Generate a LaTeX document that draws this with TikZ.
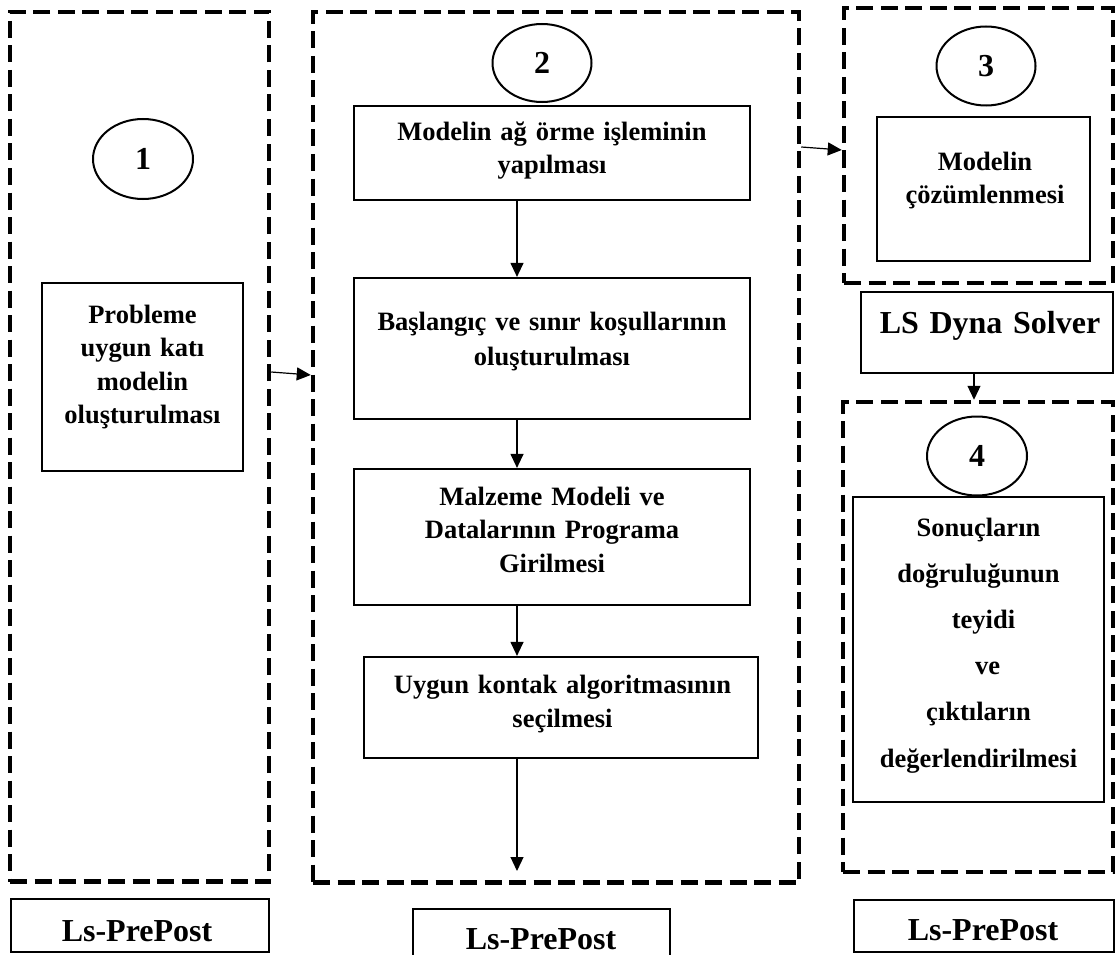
\documentclass[tikz,border=0pt]{standalone}
\usepackage{fontspec}
\setmainfont{Liberation Serif}
\usetikzlibrary{shapes.geometric,arrows.meta}

\tikzset{
  grp/.style={draw, rectangle, inner sep=0pt, line width=4.5pt, dash pattern=on 17pt off 7.5pt},
  stepbox/.style={draw, rectangle, inner sep=0pt, line width=2.2pt},
  num/.style={draw, ellipse, inner sep=0pt, line width=2pt,
              font=\fontsize{32}{38}\selectfont\bfseries},
  lbl/.style={anchor=base, align=center, inner sep=0pt,
              font=\fontsize{26.5}{33.5}\selectfont\bfseries},
  biglbl/.style={anchor=base, align=center, inner sep=0pt,
              font=\fontsize{32}{38}\selectfont\bfseries},
  arr/.style={line width=1.2pt, -{Triangle[length=14pt,width=13pt]}},
}

\begin{document}
\begin{tikzpicture}[x=1pt, y=-1pt]
\useasboundingbox (0,0) rectangle (1116,955);

% dashed stage frames
\node[grp, minimum width=259pt, minimum height=869.5pt] (g1) at (139.5,446.75) {};
\node[grp, minimum width=486pt, minimum height=870.5pt] (g2) at (556,447.25) {};
\node[grp, minimum width=269pt, minimum height=275pt]   (g3) at (978.5,145.5) {};
\node[grp, minimum width=270pt, minimum height=470pt]   (g4) at (978,637) {};

% stage numbers
\node[num, minimum width=100pt, minimum height=80pt] (c1) at (143,159) {1};
\node[num, minimum width=99pt,  minimum height=78pt] (c2) at (542,63)  {2};
\node[num, minimum width=99pt,  minimum height=79pt] (c3) at (986,66)  {3};
\node[num, minimum width=100pt, minimum height=79pt] (c4) at (977,456) {4};

% stage 1
\node[stepbox, minimum width=201pt, minimum height=188pt] (p1) at (142.5,377) {};
\node[lbl, text width=200pt] (p1t) at (142.5,323)
  {Probleme\\uygun katı\\modelin\\oluşturulması};

% stage 2
\node[stepbox, minimum width=396pt, minimum height=94pt]  (b1) at (552,153) {};
\node[lbl, text width=390pt, font=\fontsize{26.5}{33}\selectfont\bfseries] (b1t) at (552,140)
  {Modelin ağ örme işleminin\\yapılması};

\node[stepbox, minimum width=396pt, minimum height=141pt] (b2) at (552,348.5) {};
\node[lbl, text width=390pt, font=\fontsize{26.5}{35}\selectfont\bfseries] (b2t) at (552,330)
  {Başlangıç ve sınır koşullarının\\oluşturulması};

\node[stepbox, minimum width=396pt, minimum height=136pt] (b3) at (552,537) {};
\node[lbl, text width=390pt] (b3t) at (552,505)
  {Malzeme Modeli ve\\Datalarının Programa\\Girilmesi};

\node[stepbox, minimum width=394pt, minimum height=101pt] (b4) at (561,707.5) {};
\node[lbl, text width=390pt, font=\fontsize{26.5}{34}\selectfont\bfseries] (b4t) at (562.5,693)
  {Uygun kontak algoritmasının\\seçilmesi};

% stage 3
\node[stepbox, minimum width=213pt, minimum height=144pt] (b5) at (983.5,189) {};
\node[lbl, text width=210pt] (b5t) at (985,170)
  {Modelin\\çözümlenmesi};

\node[stepbox, minimum width=252pt, minimum height=81pt] (ls) at (987,332.5) {};
\node[biglbl, text width=250pt] (lst) at (990,333) {LS Dyna Solver};

% stage 4
\node[stepbox, minimum width=251pt, minimum height=305pt] (b6) at (978.5,649.5) {};
\node[lbl, text width=250pt, font=\fontsize{26.5}{46.2}\selectfont\bfseries] (b6t) at (978.5,536)
  {Sonuçların\\doğruluğunun\\\hspace*{10pt}teyidi\\\hspace*{18pt}ve\\çıktıların\\değerlendirilmesi};

% tool labels
\node[stepbox, minimum width=258pt, minimum height=53pt] (lp1) at (140,925.5) {};
\node[biglbl, text width=250pt] (lp1t) at (137,941) {Ls-PrePost};
\node[stepbox, minimum width=257pt, minimum height=56pt] (lp2) at (541.5,937) {};
\node[biglbl, text width=250pt, text depth=0pt] (lp2t) at (541,949) {Ls-PrePost};
\node[stepbox, minimum width=260pt, minimum height=52pt] (lp3) at (984,926) {};
\node[biglbl, text width=250pt] (lp3t) at (983,940) {Ls-PrePost};

% connectors
\coordinate (ax) at (517,0);
\coordinate (bx) at (974,0);
\coordinate (e2) at (517,871);

\draw[arr] (g1.east |- 0,372) -- (g2.west |- 0,375);
\draw[arr] (g2.east |- 0,147) -- (g3.west |- 0,150);
\draw[arr] (b1.south -| ax) -- (b2.north -| ax);
\draw[arr] (b2.south -| ax) -- (b3.north -| ax);
\draw[arr] (b3.south -| ax) -- (b4.north -| ax);
\draw[arr] (b4.south -| ax) -- (e2);
\draw[arr] (ls.south -| bx) -- (g4.north -| bx);
\end{tikzpicture}
\end{document}
